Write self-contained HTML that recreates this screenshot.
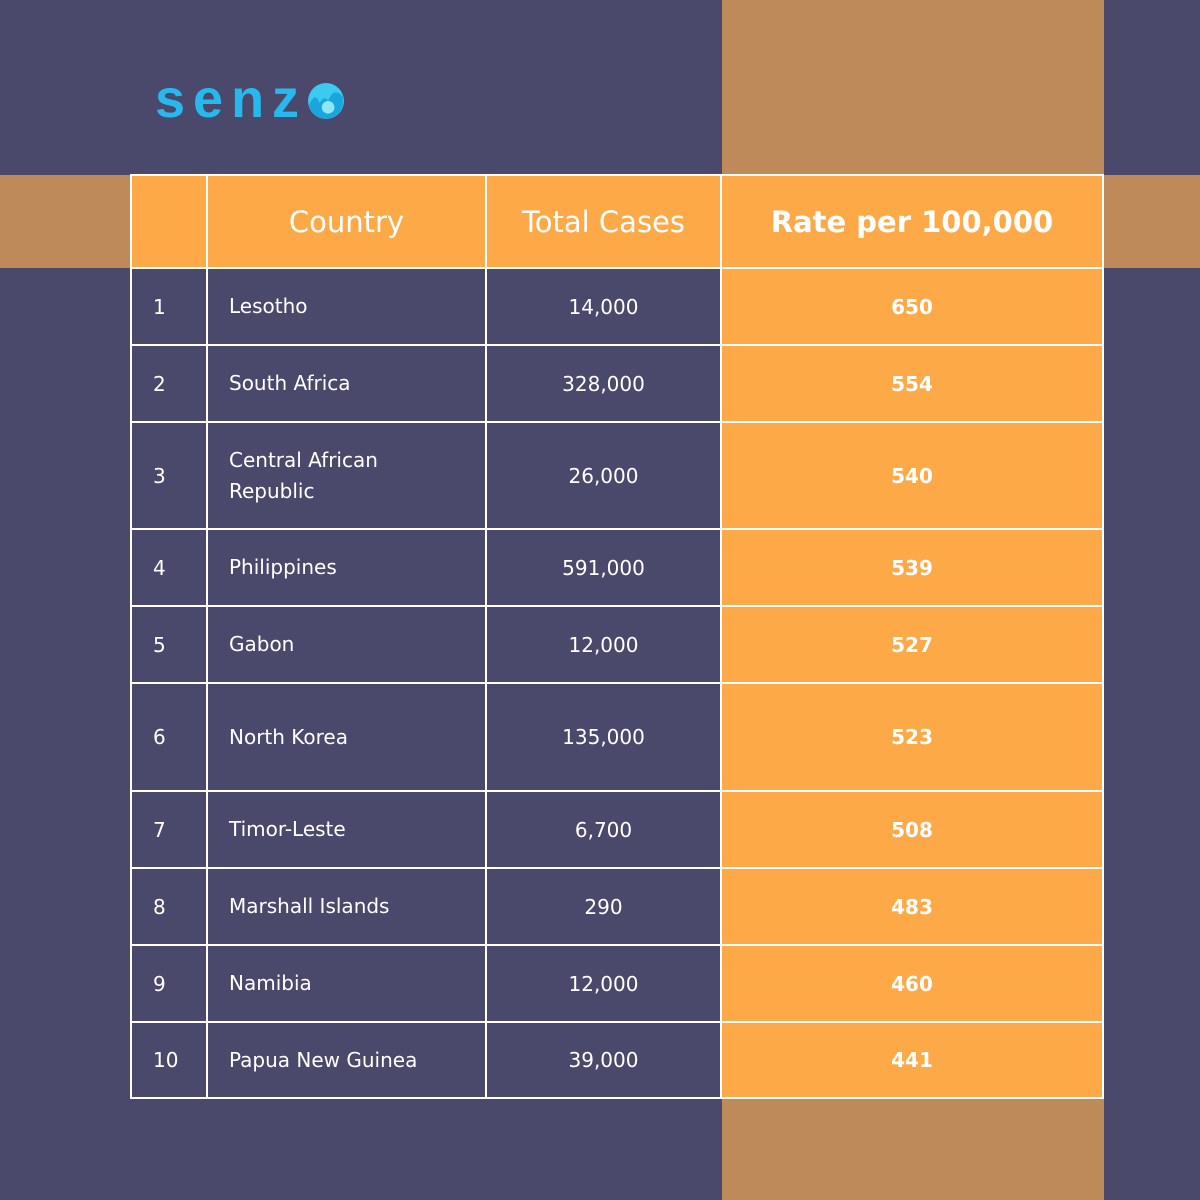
<!DOCTYPE html>
<html><head><meta charset="utf-8"><style>
body{margin:0;width:1200px;height:1200px;background:#4a496b;position:relative;overflow:hidden;font-family:"DejaVu Sans","Liberation Sans",sans-serif;color:#fff}
.abs{position:absolute}
.cell{position:absolute;box-sizing:border-box;border:2px solid #fff;display:flex;align-items:center;font-size:20px}
.hd{background:#fea948;font-size:29px;justify-content:center}
.or{background:#fea948;font-weight:bold;justify-content:center}
</style></head><body>
<div class="abs" style="left:722px;top:0;width:382px;height:1200px;background:#be8a5a"></div>
<div class="abs" style="left:0;top:175px;width:1200px;height:93px;background:#be8a5a"></div>
<div class="abs" style="left:155px;top:68px;font-family:'Liberation Sans',sans-serif;font-weight:bold;font-size:54px;letter-spacing:8px;color:#27b9ee">senz<svg width="38" height="38" viewBox="0 0 36 36" style="vertical-align:-3px"><circle cx="18" cy="18" r="17" fill="#3ccbf0"/><path d="M2 22 Q8 8 12 20 Q16 12 20 18 Q25 4 34 14 L34 22 Q30 34 18 35 Q5 34 2 22Z" fill="#1aa5dd"/><circle cx="20" cy="24" r="6" fill="#8ee6f7"/></svg></div>
<div id="t"></div>
<script>
const ranks=["1","2","3","4","5","6","7","8","9","10"];
const countries=["Lesotho","South Africa","Central African<br>Republic","Philippines","Gabon","North Korea","Timor-Leste","Marshall Islands","Namibia","Papua New Guinea"];
const cases=["14,000","328,000","26,000","591,000","12,000","135,000","6,700","290","12,000","39,000"];
const rates=["650","554","540","539","527","523","508","483","460","441"];
const rowsY=[175,268,345,422,529,606,683,791,868,945,1022,1098];
const cols=[131,207,486,721,1103];
const t=document.getElementById('t');
function cell(x0,x1,y0,y1,html,cls,name,style){
 const d=document.createElement('div');d.className='cell '+cls;
 
 
 d.style.cssText=`left:${x0-1}px;top:${y0-1}px;width:${x1-x0+2}px;height:${y1-y0+2}px;`+(style||'');
 d.innerHTML=html;t.appendChild(d);}
const hdr=["","Country","Total Cases","Rate per 100,000"];
for(let c=0;c<4;c++)cell(cols[c],cols[c+1],rowsY[0],rowsY[1],hdr[c],'hd','header-cell',c==3?'font-weight:bold;':'');
for(let r=0;r<10;r++){
 const y0=rowsY[r+1],y1=rowsY[r+2];
 cell(cols[0],cols[1],y0,y1,ranks[r],'','rank-cell','padding-left:21px;');
 cell(cols[1],cols[2],y0,y1,countries[r],'','country-cell','padding-left:21px;line-height:31px;');
 cell(cols[2],cols[3],y0,y1,cases[r],'','cases-cell','justify-content:center;');
 cell(cols[3],cols[4],y0,y1,rates[r],'or','rate-cell');
}
</script>
</body></html>
